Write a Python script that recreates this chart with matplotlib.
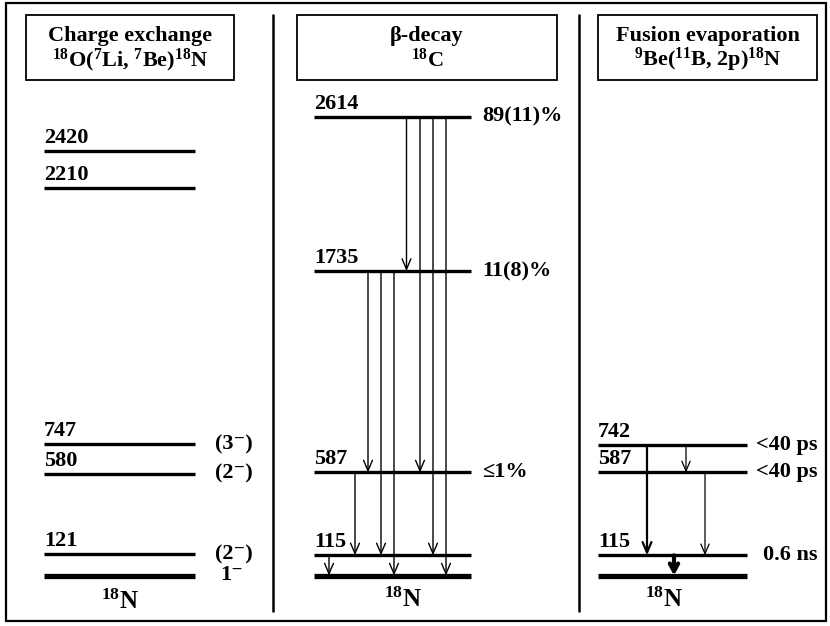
import matplotlib
matplotlib.use("Agg")
import matplotlib.pyplot as plt
from matplotlib.patches import Rectangle

plt.rcParams['font.family'] = ['Liberation Serif', 'DejaVu Serif']
plt.rcParams['font.weight'] = 'bold'
plt.rcParams['mathtext.fontset'] = 'custom'
plt.rcParams['mathtext.rm'] = 'Liberation Serif:bold'
plt.rcParams['mathtext.it'] = 'Liberation Serif:bold'
plt.rcParams['mathtext.bf'] = 'Liberation Serif:bold'
plt.rcParams['mathtext.default'] = 'rm'

# ---------------- data ----------------
headers = [("Charge exchange", r"$^{18}$O($^{7}$Li, $^{7}$Be)$^{18}$N"),
           ("β-decay", r"$^{18}$C"),
           ("Fusion evaporation", r"$^{9}$Be($^{11}$B, 2p)$^{18}$N")]
nucleus_label = r"$^{18}$N"

# Panel 1: charge exchange levels (keV) and spins
ce_energies = [0, 121, 580, 747, 2210, 2420]
ce_spins = ["1⁻", "(2⁻)", "(2⁻)", "(3⁻)", "", ""]

# Panel 2: beta decay levels (keV) and feeding
bd_energies = [0, 115, 587, 1735, 2614]
bd_feeding = ["", "", "≤1%", "11(8)%", "89(11)%"]
bd_gammas = [(2614, 1735), (2614, 587), (2614, 115), (2614, 0),
             (1735, 587), (1735, 115), (1735, 0),
             (587, 115), (115, 0)]

# Panel 3: fusion evaporation levels (keV) and lifetimes
fe_energies = [0, 115, 587, 742]
fe_lifetimes = ["", "0.6 ns", "<40 ps", "<40 ps"]
fe_gammas = [(742, 115), (742, 587), (587, 115), (115, 0)]

# ---------------- layout (pixels) ----------------
W, H = 830, 626
PX_PER_KEV = 0.1755
Y0 = 575.5  # pixel row of 0 keV

fig = plt.figure(figsize=(W / 100, H / 100), dpi=100)
frame = fig.add_axes([0, 0, 1, 1])
frame.set_xlim(0, W)
frame.set_ylim(H, 0)
frame.axis('off')

ax = fig.add_axes([0, 0, 1, 1])
ax.set_xlim(0, W)
ax.set_ylim((Y0 - H) / PX_PER_KEV, Y0 / PX_PER_KEV)
ax.axis('off')
ax.patch.set_alpha(0)

# outer frame and dividers
frame.add_patch(Rectangle((6, 3), 820, 618, fill=False, lw=1.6, color='black'))
for xd in [273, 579]:
    frame.plot([xd, xd], [14, 612], color='black', lw=1.8, solid_capstyle='butt')

# header boxes
boxes = [(26, 234), (297, 557), (598, 817)]
for (x0, x1), (l1, l2) in zip(boxes, headers):
    frame.add_patch(Rectangle((x0, 15), x1 - x0, 65, fill=False, lw=1.3, color='black'))
    xc = (x0 + x1) / 2
    frame.text(xc, 36, l1, ha='center', va='center', fontsize=16)
    frame.text(xc, 60, l2, ha='center', va='center', fontsize=16)

LW_LEVEL = 2.4
LW_GS = 3.8
NUM_FS = 16


def level(x0, x1, e):
    lw = LW_GS if e == 0 else LW_LEVEL
    ax.plot([x0, x1], [e, e], color='black', lw=lw, solid_capstyle='butt')
    if e != 0:
        ax.annotate(str(e), xy=(x0, e), xytext=(0, 2.2),
                    textcoords='offset points', ha='left', va='bottom', fontsize=NUM_FS)


def side_label(x, e, text, size=16):
    if text:
        ax.text(x, e, text, ha='left', va='center', fontsize=size)


def gamma(x, ei, ef, lw=1.0, hl=0.75, hw=0.32):
    ax.annotate("", xy=(x, ef), xytext=(x, ei),
                arrowprops=dict(arrowstyle=f"->,head_length={hl},head_width={hw}",
                                lw=lw, color='black', shrinkA=0, shrinkB=0))

# Panel 1
for e, s in zip(ce_energies, ce_spins):
    level(44, 195, e)
    side_label(215 if e != 0 else 220, e, s)
frame.text(120, 602, nucleus_label, ha='center', va='center', fontsize=18)

# Panel 2
for e, f in zip(bd_energies, bd_feeding):
    level(314, 471, e)
    side_label(482, e, f)
bd_gamma_x = [406.5, 420, 433, 446, 368, 381, 394, 355, 329]
for x, (ei, ef) in zip(bd_gamma_x, bd_gammas):
    gamma(x, ei, ef)
frame.text(403, 600, nucleus_label, ha='center', va='center', fontsize=18)

# Panel 3
for e, t in zip(fe_energies, fe_lifetimes):
    level(598, 747, e)
    side_label(756 if e != 115 else 763, e, t)
fe_gamma_x = [647, 686, 705, 674]
fe_gamma_lw = [1.6, 0.9, 0.9, 3.0]
fe_gamma_head = [(0.75, 0.32), (0.7, 0.3), (0.7, 0.3), (0.55, 0.3)]
for x, (ei, ef), lw, (hl, hw) in zip(fe_gamma_x, fe_gammas, fe_gamma_lw, fe_gamma_head):
    gamma(x, ei, ef, lw=lw, hl=hl, hw=hw)
frame.text(664, 600, nucleus_label, ha='center', va='center', fontsize=18)

fig.savefig("out.png", dpi=100)
